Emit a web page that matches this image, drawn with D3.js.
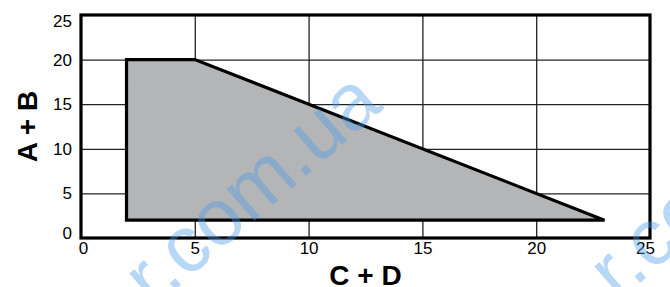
<!DOCTYPE html>
<html>
<head>
<meta charset="utf-8">
<script src="https://cdn.jsdelivr.net/npm/d3@7"></script>
<style>
    body { margin: 0; background: #fff; }
    svg { display: block; font-family: "Liberation Sans", Arial, sans-serif; }
</style>
</head>
<body>
<div id="chart"></div>
<script>
// region outline, in (C + D, A + B) units
const regionX = [2, 2, 5, 23];
const regionY = [2, 20, 20, 2];

const xTicks = [0, 5, 10, 15, 20, 25];
const yTicks = [0, 5, 10, 15, 20, 25];
const xTitle = "C + D";
const yTitle = "A + B";
const watermark = "r.com.ua";

const width = 670, height = 287;
const margin = { top: 15, right: 20, bottom: 49, left: 81 };
const w = width - margin.left - margin.right;
const h = height - margin.top - margin.bottom;

const svg = d3.select("#chart").append("svg")
    .attr("width", width)
    .attr("height", height);

const g = svg.append("g")
    .attr("transform", `translate(${margin.left},${margin.top})`);

const x = d3.scaleLinear().domain([0, 25]).range([0, w]);
const y = d3.scaleLinear().domain([0, 25]).range([h, 0]);

// grid
g.append("g")
    .attr("transform", `translate(0,${h})`)
    .call(d3.axisBottom(x).tickValues(xTicks.slice(1, -1)).tickSize(-h).tickFormat(""))
    .call(a => a.select(".domain").remove())
    .selectAll("line").attr("stroke", "#222").attr("stroke-width", 1.3);

g.append("g")
    .call(d3.axisLeft(y).tickValues(yTicks.slice(1, -1)).tickSize(-w).tickFormat(""))
    .call(a => a.select(".domain").remove())
    .selectAll("line").attr("stroke", "#222").attr("stroke-width", 1.3);

// region
const pts = regionX.map((d, i) => [x(d), y(regionY[i])]);
g.append("path")
    .attr("d", d3.line()(pts) + "Z")
    .attr("fill", "#b4b5b7")
    .attr("stroke", "#000")
    .attr("stroke-width", 3.2);

// frame
g.append("rect")
    .attr("width", w)
    .attr("height", h)
    .attr("fill", "none")
    .attr("stroke", "#000")
    .attr("stroke-width", 3.2);

// tick labels
const xAxis = g.append("g")
    .attr("transform", `translate(0,${h})`)
    .call(d3.axisBottom(x).tickValues(xTicks).tickSize(0).tickPadding(4));
xAxis.select(".domain").remove();
xAxis.selectAll("text")
    .attr("font-size", 17).attr("font-family", "Liberation Sans, Arial").attr("fill", "#000")
    .attr("dx", d => d === 0 ? 2 : d === 25 ? -5 : 0);

const yAxis = g.append("g")
    .call(d3.axisLeft(y).tickValues(yTicks).tickSize(0).tickPadding(9));
yAxis.select(".domain").remove();
yAxis.selectAll("text")
    .attr("font-size", 17).attr("font-family", "Liberation Sans, Arial").attr("fill", "#000")
    .attr("y", d => d === 0 ? -5 : d === 25 ? 6 : 0);

// axis titles
svg.append("text")
    .attr("x", margin.left + w / 2)
    .attr("y", 285)
    .attr("text-anchor", "middle")
    .attr("font-size", 28)
    .attr("font-weight", "bold")
    .text(xTitle);

svg.append("text")
    .attr("transform", `translate(37,${margin.top + h / 2}) rotate(-90)`)
    .attr("text-anchor", "middle")
    .attr("font-size", 28)
    .attr("font-weight", "bold")
    .text(yTitle);

// watermark
[[153, 309], [618, 302]].forEach(p => {
    svg.append("text")
        .attr("transform", `translate(${p[0]},${p[1]}) rotate(-41)`)
        .attr("font-size", 80)
        .attr("fill", "#4a9be8")
        .attr("fill-opacity", 0.4)
        .text(watermark);
});
</script>
</body>
</html>
